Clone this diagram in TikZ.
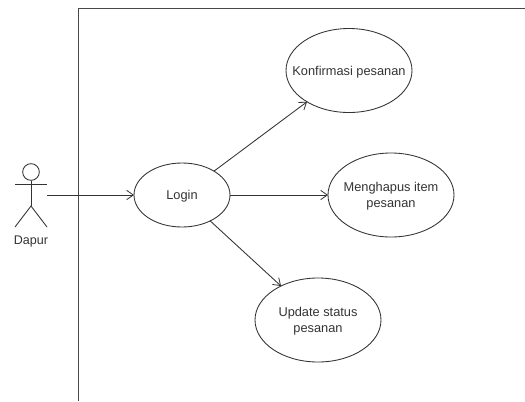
\documentclass[tikz,border=0pt]{standalone}
\usepackage{fontspec}
\setmainfont{Liberation Sans}
\usetikzlibrary{shapes.geometric,arrows.meta}
\definecolor{ink}{HTML}{333333}
\newcommand{\uctext}[1]{\raisebox{-3.6pt}[0pt][0pt]{\makebox[0pt]{\begin{tabular}{@{}c@{}}#1\end{tabular}}}}
\tikzset{
  usecase/.style={draw=ink,ellipse,line width=0.65pt,inner sep=0pt,outer sep=0pt,minimum width=94.5pt,minimum height=63pt,font=\fontsize{9.6}{12}\selectfont,text=ink},
  conn/.style={draw=ink,line width=0.65pt,-{Straight Barb[length=5pt,width=7pt,line width=0.6pt]}},
  stroke/.style={draw=ink,line width=0.65pt},
  frame/.style={draw=black!72,line width=0.8pt,line join=miter}
}
\begin{document}
\begin{tikzpicture}[x=0.75pt,y=-0.75pt]
\useasboundingbox (0,0) rectangle (525,401);
\coordinate (fa) at (78.5,401);
\coordinate (fb) at (78.5,8.7);
\coordinate (fc) at (525,8.7);
\draw[frame] (fa) -- (fb) -- (fc);
\node[usecase,minimum width=72pt,minimum height=48pt] (login) at (182,195) {\uctext{Login}};
\node[usecase] (konf) at (349,70.5) {\uctext{Konfirmasi pesanan}};
\node[usecase] (hapus) at (391,195) {\uctext{Menghapus item\\pesanan}};
\node[usecase] (update) at (318,320) {\uctext{Update status\\pesanan}};
\node[draw=ink,circle,line width=0.65pt,minimum size=12.5pt,inner sep=0pt] (head) at (31,172) {};
\coordinate (armL) at (15,184.5);
\coordinate (armR) at (47,184.5);
\coordinate (hip) at (31,206);
\coordinate (legL) at (15,227);
\coordinate (legR) at (47,227);
\coordinate (hand) at (47,195);
\draw[stroke] (head) -- (hip);
\draw[stroke] (armL) -- (armR);
\draw[stroke] (legL) -- (hip) -- (legR);
\node[font=\fontsize{9.4}{12}\selectfont,text=ink,inner sep=0pt] (dapur) at (31,241) {Dapur};
\draw[conn] (hand) -- (login);
\draw[conn] (login) -- (konf);
\draw[conn] (login) -- (hapus);
\draw[conn] (login) -- (update);
\end{tikzpicture}
\end{document}
